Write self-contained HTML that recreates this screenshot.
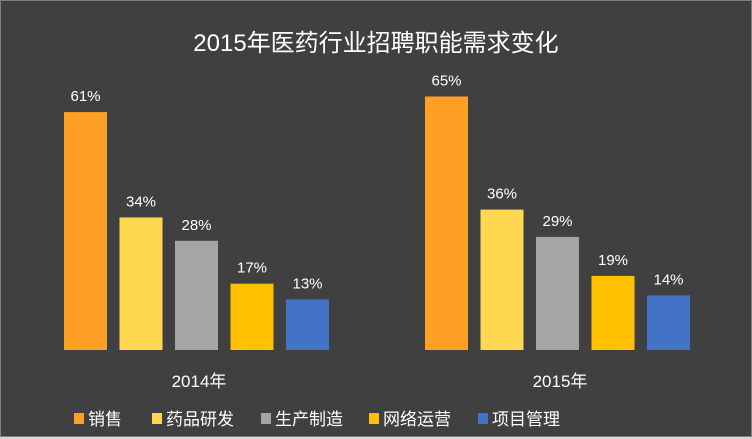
<!DOCTYPE html>
<html><head><meta charset="utf-8"><style>
body{margin:0;background:#d9d9d9;}
#wrap{position:relative;width:750px;height:435px;background:#404040;border:1px solid #7f7f7f;overflow:hidden;font-family:"Liberation Sans","Noto Sans CJK SC",sans-serif;}
</style></head><body>
<div id="wrap">
<svg id="chart" width="750" height="435"></svg>
</div>
<script>
const categories=["2014年","2015年"];
const seriesNames=["销售","药品研发","生产制造","网络运营","项目管理"];
const colors=["#FFA024","#FFD751","#A5A5A5","#FFC000","#4472C4"];
const values2014=[61,34,28,17,13];
const values2015=[65,36,29,19,14];
const allValues=[values2014,values2015];
const legendX=[73,151,260,368,477];

const svg=document.getElementById('chart');
const NS='http://www.w3.org/2000/svg';
const baseY=349, pxPer=3.9;
const y=v=>baseY-v*pxPer;
const groupCenter=i=>195+i*361;
const barX=(g,s)=>groupCenter(g)-132+s*55.5;
function mk(tag,attrs,text){const e=document.createElementNS(NS,tag);for(const k in attrs)e.setAttribute(k,attrs[k]);if(text!==undefined)e.textContent=text;svg.appendChild(e);return e;}

const t=mk('text',{x:375,y:50,fill:'#fff','font-size':24,'text-anchor':'middle'},'2015年医药行业招聘职能需求变化');



allValues.forEach((vals,g)=>{
  vals.forEach((v,s)=>{
    const r=mk('rect',{x:barX(g,s),y:y(v),width:43,height:baseY-y(v),fill:colors[s]});
    
    
    const l=mk('text',{x:barX(g,s)+21.5,y:y(v)-11,fill:'#fff','font-size':15,'text-anchor':'middle'},v+'%');
    
    
  });
  const c=mk('text',{x:groupCenter(g)+3,y:386,fill:'#fff','font-size':17,'text-anchor':'middle'},categories[g]);
  
  
});

seriesNames.forEach((n,s)=>{
  const r=mk('rect',{x:legendX[s],y:412,width:10,height:11,fill:colors[s]});
  
  
  const tx=mk('text',{x:legendX[s]+14,y:424,fill:'#fff','font-size':17},n);
  
  
});
</script>
</body></html>
